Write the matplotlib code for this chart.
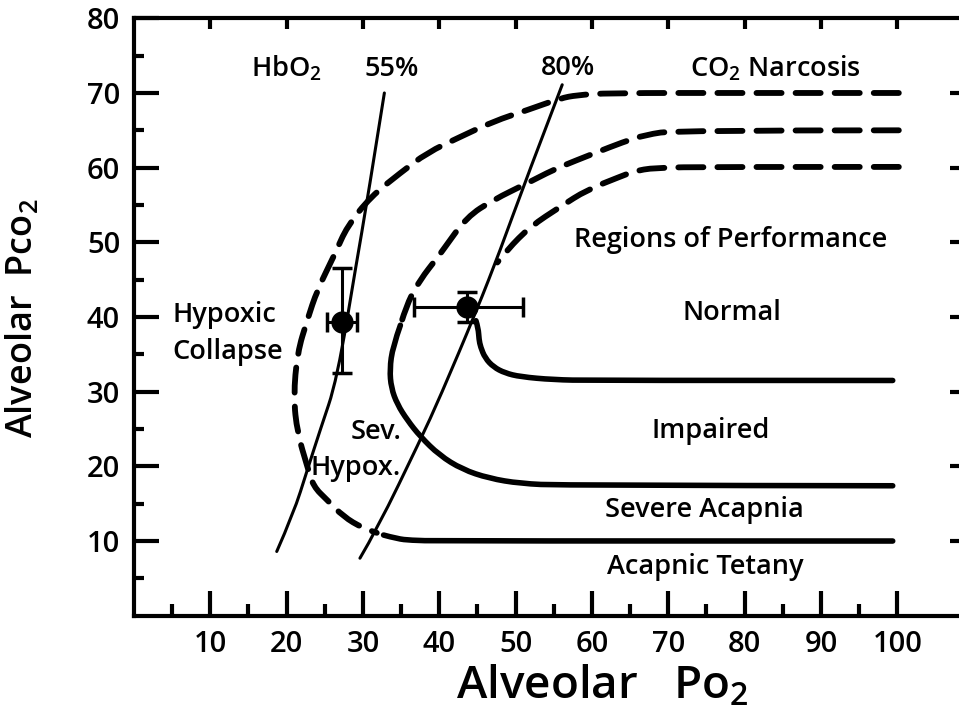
import matplotlib.pyplot as plt
from matplotlib.path import Path
from matplotlib.patches import PathPatch
from matplotlib.ticker import FixedLocator

plt.rcParams['font.family'] = ['Open Sans', 'DejaVu Sans']
plt.rcParams['font.weight'] = 'semibold'
plt.rcParams['mathtext.default'] = 'regular'

# HbO2 saturation isopleths (Po2, Pco2)
sat55_po2 = [18.7, 20.9, 22.7, 24.4, 26.6, 29.2, 30.5, 32.8]
sat55_pco2 = [8.6, 13.7, 19.5, 24.9, 31.6, 47.6, 55.2, 70.0]
sat80_po2 = [29.6, 31.8, 37.5, 40.1, 44.9, 48.0, 51.2, 56.1]
sat80_pco2 = [7.7, 11.5, 23.5, 29.3, 40.9, 49.0, 58.0, 71.1]

# outer boundary: CO2 narcosis at 70, hypoxic collapse, down to tetany at 10
outer_dash_po2 = [100.2, 80.0, 62.0, 58.0, 55.9, 51.5, 47.1, 42.7, 38.4, 34.9, 31.0,
                  27.9, 26.4, 24.0, 22.7, 21.4, 20.9, 21.4, 22.7, 23.5, 25.3, 27.4,
                  30.0, 31.8]
outer_dash_pco2 = [70.0, 70.0, 70.0, 69.7, 69.3, 67.7, 66.2, 64.1, 62.0, 59.3, 56.1,
                   52.1, 48.6, 43.6, 39.6, 35.2, 29.3, 24.5, 20.0, 17.3, 15.5, 13.3,
                   11.7, 11.1]
outer_solid_po2 = [32.7, 34.5, 36.2, 40.0, 99.4]
outer_solid_pco2 = [10.8, 10.3, 10.1, 10.0, 10.0]

# middle boundary: 65 down to severe acapnia at 17.5
mid_dash_po2 = [100.2, 71.0, 67.0, 64.0, 60.5, 58.0, 54.9, 51.5, 47.1, 43.6, 40.5,
                39.7, 37.5, 35.8, 34.9]
mid_dash_pco2 = [65.0, 65.0, 64.4, 63.4, 62.0, 61.0, 59.7, 57.9, 55.7, 53.4, 49.0,
                 47.9, 45.0, 41.9, 38.9]
mid_solid_po2 = [34.9, 33.9, 33.5, 33.7, 34.5, 35.8, 37.5, 40.0, 43.0, 46.5, 50.6,
                 56.0, 99.4]
mid_solid_pco2 = [38.9, 36.0, 33.0, 30.5, 28.3, 26.2, 24.0, 21.5, 19.6, 18.4, 17.7,
                  17.45, 17.4]

# inner boundary: 60 down to the normal / impaired limit at 31.5
inner_dash_po2 = [100.2, 75.9, 68.1, 65.5, 63.7, 59.3, 55.9, 51.9, 48.9, 47.6]
inner_dash_pco2 = [60.1, 60.1, 60.0, 59.5, 58.8, 57.0, 54.8, 52.1, 49.0, 47.3]
inner_solid_po2 = [44.8, 45.1, 45.2, 45.4, 46.0, 47.1, 48.6, 50.6, 54.9, 60.0, 99.4]
inner_solid_pco2 = [39.5, 38.5, 37.0, 36.0, 34.5, 33.3, 32.5, 32.0, 31.6, 31.5, 31.5]

# measured points with error bars
pt_po2 = [27.2, 43.6]
pt_pco2 = [39.3, 41.3]
pt_po2_err = [[1.9, 6.9], [2.0, 7.4]]
pt_pco2_err = [[6.8, 2.0], [7.3, 2.1]]

labels = [
    ('HbO$_2$', 20.0, 73.2, 'center'),
    ('55%', 33.8, 73.2, 'center'),
    ('80%', 56.8, 73.3, 'center'),
    ('CO$_2$ Narcosis', 84.0, 73.3, 'center'),
    ('Regions of Performance', 78.1, 50.3, 'center'),
    ('Normal', 78.4, 40.5, 'center'),
    ('Hypoxic', 5.0, 40.3, 'left'),
    ('Collapse', 5.0, 35.3, 'left'),
    ('Sev.', 35.0, 24.6, 'right'),
    ('Hypox.', 35.0, 19.8, 'right'),
    ('Impaired', 75.5, 24.8, 'center'),
    ('Severe Acapnia', 74.7, 14.2, 'center'),
    ('Acapnic Tetany', 74.8, 6.5, 'center'),
]


def smooth_curve(ax, xs, ys, **kw):
    # quadratic bezier through the midpoints, using the points as controls
    pts = list(zip(xs, ys))
    verts = [pts[0]]
    codes = [Path.MOVETO]
    for i in range(1, len(pts) - 1):
        mid = ((pts[i][0] + pts[i + 1][0]) / 2, (pts[i][1] + pts[i + 1][1]) / 2)
        if i == len(pts) - 2:
            mid = pts[-1]
        verts += [pts[i], mid]
        codes += [Path.CURVE3, Path.CURVE3]
    if len(pts) == 2:
        verts.append(pts[1])
        codes.append(Path.LINETO)
    ax.add_patch(PathPatch(Path(verts, codes), fill=False, edgecolor='black',
                           capstyle='round', joinstyle='round', **kw))


fig = plt.figure(figsize=(9.59, 7.13), dpi=100)
ax = fig.add_axes([134 / 959, 97.3 / 713, 830 / 959, 597.4 / 713])
ax.set_xlim(0, 830 / 7.633)
ax.set_ylim(0, 80)

dash = (0, (4.3, 2.4))
smooth_curve(ax, sat55_po2, sat55_pco2, lw=2.2)
smooth_curve(ax, sat80_po2, sat80_pco2, lw=2.2)
smooth_curve(ax, outer_dash_po2, outer_dash_pco2, lw=4.2, linestyle=dash)
smooth_curve(ax, outer_solid_po2, outer_solid_pco2, lw=4)
smooth_curve(ax, mid_dash_po2, mid_dash_pco2, lw=4.2, linestyle=dash)
smooth_curve(ax, mid_solid_po2, mid_solid_pco2, lw=4)
smooth_curve(ax, inner_dash_po2, inner_dash_pco2, lw=4.2, linestyle=dash)
smooth_curve(ax, inner_solid_po2, inner_solid_pco2, lw=4)

ax.errorbar(pt_po2, pt_pco2, xerr=pt_po2_err, yerr=pt_pco2_err, fmt='o',
            color='black', ms=15, elinewidth=2.2, capsize=7, capthick=2.5)

for txt, x, y, ha in labels:
    ax.text(x, y, txt, ha=ha, va='center', fontsize=19.5)

for s in ax.spines.values():
    s.set_linewidth(3)

ax.xaxis.set_major_locator(FixedLocator(range(10, 101, 10)))
ax.xaxis.set_minor_locator(FixedLocator(range(5, 100, 10)))
ax.yaxis.set_major_locator(FixedLocator(range(10, 81, 10)))
ax.yaxis.set_minor_locator(FixedLocator(range(5, 80, 10)))
ax.tick_params(which='major', direction='in', length=18, width=3, labelsize=21, pad=10)
ax.tick_params(axis='x', which='minor', direction='in', length=9, width=3)
ax.tick_params(axis='y', which='minor', direction='in', length=7, width=3)

top = ax.secondary_xaxis('top')
top.set_xticks(range(10, 101, 10))
top.tick_params(direction='in', length=8, width=3, labeltop=False)
right = ax.secondary_yaxis('right')
right.set_yticks(range(10, 71, 10))
right.tick_params(direction='in', length=10, width=3, labelright=False)

fig.text(602 / 959, 1 - 687 / 713, 'Alveolar   Po$_2$', ha='center', va='center', fontsize=33)
fig.text(23 / 959, 1 - 318 / 713, 'Alveolar  Pco$_2$', ha='center', va='center',
         fontsize=26, rotation=90)

fig.savefig('out.png', dpi=100)
